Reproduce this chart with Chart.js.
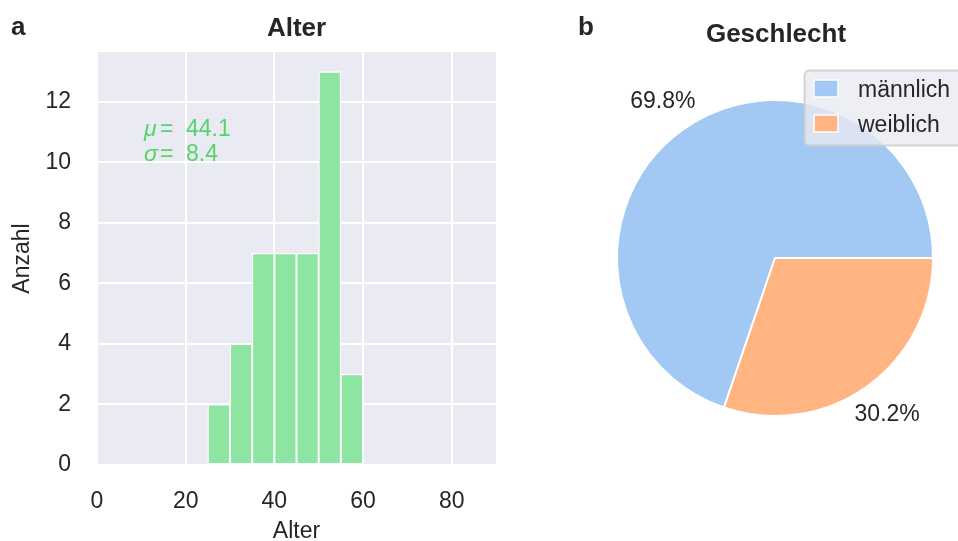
<!DOCTYPE html>
<html>
<head>
<meta charset="utf-8">
<title>Alter und Geschlecht</title>
<script src="https://cdn.jsdelivr.net/npm/chart.js@4.4.1/dist/chart.umd.min.js"></script>
<style>
  html, body { margin: 0; padding: 0; background: #ffffff; }
  #wrap { position: relative; width: 958px; height: 541px; overflow: hidden; }
  #wrap canvas { position: absolute; left: 0; top: 0; }
</style>
</head>
<body>
<div id="wrap">
  <canvas id="ageChart" width="958" height="541"></canvas>
  <canvas id="genderChart" width="958" height="541"></canvas>
</div>
<script>
// Altersverteilung: Klassengrenzen (Jahre) und Anzahl je Klasse
const ageEdges = [25, 30, 35, 40, 45, 50, 55, 60];
const ageCounts = [2, 4, 7, 7, 7, 13, 3];
const ageMean = '44.1';
const ageStd = '8.4';
const xTickStep = 20;
const yTickStep = 2;

// Geschlechterverteilung
const genderLabels = ['männlich', 'weiblich'];
const genderCounts = [30, 13];
const genderColors = ['#a1c9f4', '#ffb482'];

const TEXT = '#262626';
const FONT = "'Liberation Sans', Arial, Helvetica, sans-serif";
const PANEL_BG = '#eaeaf2';
const GREEN_BAR = '#8de5a1';
const GREEN_TEXT = '#55d46e';

Chart.defaults.font.family = FONT;
Chart.defaults.color = TEXT;
Chart.defaults.animation = false;

// Histogram bars as {x: bin centre, y: count}
const ageBars = ageCounts.map((c, i) => ({
  x: (ageEdges[i] + ageEdges[i + 1]) / 2,
  y: c
}));
const yMax = Math.max(...ageCounts) * 1.05;

const ageDecor = {
  id: 'ageDecor',
  beforeDraw(chart) {
    const { ctx, chartArea: a } = chart;
    ctx.save();
    ctx.fillStyle = PANEL_BG;
    ctx.fillRect(a.left, a.top, a.right - a.left, a.bottom - a.top);
    ctx.restore();
  },
  afterDraw(chart) {
    const { ctx, chartArea: a } = chart;
    ctx.save();
    ctx.fillStyle = TEXT;
    ctx.textBaseline = 'alphabetic';
    ctx.font = 'bold 26px ' + FONT;
    ctx.textAlign = 'left';
    ctx.fillText('a', 11, 35);
    ctx.textAlign = 'center';
    ctx.fillText('Alter', (a.left + a.right) / 2, 36);

    // Mittelwert und Standardabweichung
    ctx.fillStyle = GREEN_TEXT;
    ctx.textAlign = 'left';
    const lines = [['μ', ageMean], ['σ', ageStd]];
    lines.forEach(([sym, val], i) => {
      const y = a.top + 83.5 + i * 25;
      ctx.font = 'italic 23px ' + FONT;
      ctx.fillText(sym, a.left + 47, y);
      ctx.font = '23px ' + FONT;
      ctx.fillText('=', a.left + 63, y);
      ctx.fillText(val, a.left + 89, y);
    });
    ctx.restore();
  }
};

new Chart(document.getElementById('ageChart'), {
  type: 'bar',
  data: {
    datasets: [{
      label: 'Alter',
      data: ageBars,
      backgroundColor: GREEN_BAR,
      borderColor: '#ffffff',
      borderWidth: 1.3,
      borderSkipped: false,
      barPercentage: 1,
      categoryPercentage: 1
    }]
  },
  options: {
    responsive: false,
    devicePixelRatio: 1,
    layout: { padding: { left: 0, top: 52, right: 462, bottom: 0 } },
    plugins: { legend: { display: false }, tooltip: { enabled: false } },
    events: [],
    scales: {
      x: {
        type: 'linear',
        min: 0,
        max: 90,
        offset: false,
        grid: { color: '#ffffff', lineWidth: 2, drawTicks: false, offset: false },
        border: { display: false },
        ticks: { stepSize: xTickStep, includeBounds: false, padding: 23, font: { size: 23 }, color: TEXT, maxRotation: 0 },
        title: { display: true, text: 'Alter', font: { size: 23, lineHeight: 1 }, color: TEXT, padding: { top: 0, bottom: -2 } },
        afterFit(scale) { scale.height = 76; }
      },
      y: {
        min: 0,
        max: yMax,
        grid: { color: '#ffffff', lineWidth: 2, drawTicks: false },
        border: { display: false },
        ticks: { stepSize: yTickStep, includeBounds: false, padding: 26, font: { size: 23 }, color: TEXT },
        title: { display: true, text: 'Anzahl', font: { size: 23, lineHeight: 1 }, color: TEXT, padding: { top: 11.5, bottom: 0 } },
        afterFit(scale) { scale.width = 97; }
      }
    }
  },
  plugins: [ageDecor]
});

// Kreisdiagramm: Beschriftungen, Titel und Legende
const genderTotal = genderCounts.reduce((s, v) => s + v, 0);
// the first slice ends at 3 o'clock; slices are laid out counter-clockwise from there
const pieRotation = 90 + 360 * (1 - genderCounts[0] / genderTotal);

const genderDecor = {
  id: 'genderDecor',
  afterDatasetsDraw(chart) {
    const { ctx } = chart;
    const meta = chart.getDatasetMeta(0);
    ctx.save();
    ctx.fillStyle = TEXT;
    ctx.font = '23px ' + FONT;
    ctx.textAlign = 'center';
    ctx.textBaseline = 'middle';
    meta.data.forEach((arc, i) => {
      const p = arc.getProps(['x', 'y', 'startAngle', 'endAngle', 'outerRadius'], true);
      const mid = (p.startAngle + p.endAngle) / 2;
      const r = p.outerRadius * 1.22;
      const pct = (100 * genderCounts[i] / genderTotal).toFixed(1) + '%';
      ctx.fillText(pct, p.x + Math.cos(mid) * r, p.y + Math.sin(mid) * r);
    });
    ctx.restore();
  },
  afterDraw(chart) {
    const { ctx } = chart;
    const meta = chart.getDatasetMeta(0);
    const cx = meta.data[0].x;
    ctx.save();
    ctx.fillStyle = TEXT;
    ctx.textBaseline = 'alphabetic';
    ctx.font = 'bold 26px ' + FONT;
    ctx.textAlign = 'left';
    ctx.fillText('b', 578, 35);
    ctx.textAlign = 'center';
    ctx.fillText('Geschlecht', cx + 1, 42);

    // Legende
    const bx = 804.5, by = 70.5, bw = 170, bh = 75;
    ctx.beginPath();
    ctx.roundRect(bx, by, bw, bh, 5);
    ctx.fillStyle = 'rgba(234,234,242,0.8)';
    ctx.fill();
    ctx.lineWidth = 2;
    ctx.strokeStyle = 'rgba(204,204,204,0.85)';
    ctx.stroke();
    ctx.font = '23px ' + FONT;
    ctx.textAlign = 'left';
    chart.data.labels.forEach((lab, i) => {
      const y = 80 + i * 35;
      ctx.fillStyle = chart.data.datasets[0].backgroundColor[i];
      ctx.fillRect(814, y, 24, 17);
      ctx.lineWidth = 1.5;
      ctx.strokeStyle = '#ffffff';
      ctx.strokeRect(814, y, 24, 17);
      ctx.fillStyle = TEXT;
      ctx.fillText(lab, 858, y + 16.5);
    });
    ctx.restore();
  }
};

new Chart(document.getElementById('genderChart'), {
  type: 'pie',
  data: {
    labels: genderLabels,
    datasets: [{
      data: genderCounts,
      backgroundColor: genderColors,
      borderColor: '#ffffff',
      borderWidth: 2
    }]
  },
  options: {
    responsive: false,
    devicePixelRatio: 1,
    rotation: pieRotation,
    layout: { padding: { left: 616, top: 99, right: 24, bottom: 124 } },
    plugins: { legend: { display: false }, tooltip: { enabled: false } },
    events: []
  },
  plugins: [genderDecor]
});
</script>
</body>
</html>
